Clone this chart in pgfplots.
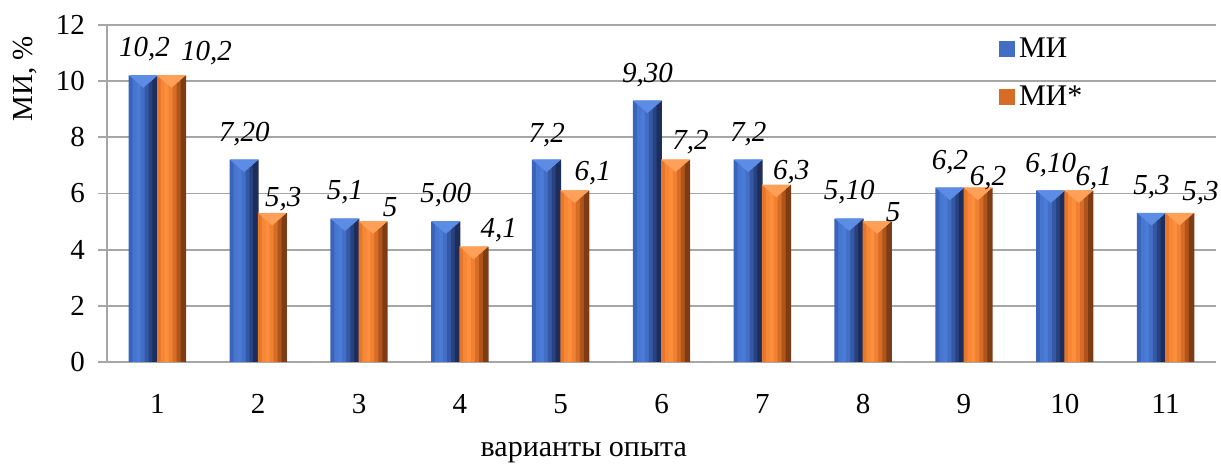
\documentclass[border=0pt]{standalone}
\usepackage{pgfplots}
\pgfplotsset{compat=1.18}
\usepackage{pgfplotstable}
\usepackage{fontspec}
\setmainfont{Liberation Serif}
\definecolor{bA}{RGB}{58,100,188}
\definecolor{bB}{RGB}{70,118,208}
\definecolor{bC}{RGB}{74,123,214}
\definecolor{bD}{RGB}{66,110,196}
\definecolor{bE}{RGB}{52,88,165}
\definecolor{bF}{RGB}{40,66,128}
\definecolor{bG}{RGB}{30,46,92}
\definecolor{oA}{RGB}{230,118,42}
\definecolor{oB}{RGB}{245,135,55}
\definecolor{oC}{RGB}{252,142,60}
\definecolor{oD}{RGB}{240,128,50}
\definecolor{oE}{RGB}{215,108,38}
\definecolor{oF}{RGB}{175,85,28}
\definecolor{oG}{RGB}{125,60,20}
\definecolor{bTop}{RGB}{92,140,228}
\definecolor{oTop}{RGB}{255,160,88}
\definecolor{gridc}{RGB}{166,166,166}

\pgfplotstableread{
x y lab dx dy
1 10.2 10,2 0.5 13
2 7.2 7,20 0 13
3 5.1 5,1 0 13.5
4 5.0 5,00 0 13
5 7.2 7,2 0 12.5
6 9.3 9,30 0 13
7 7.2 7,2 0 13
8 5.1 5,10 0 13.5
9 6.2 6,2 0 13
10 6.1 6,10 0 13
11 5.3 5,3 0 13
}\blue

\pgfplotstableread{
x y lab dx dy
1 10.2 10,2 17.5 11
2 5.3 5,3 5.5 7
3 5.0 5 8.5 7
4 4.1 4,1 12.5 8.5
5 6.1 6,1 9 9
6 7.2 7,2 7.5 9
7 6.3 6,3 7.5 6.5
8 5.0 5 8 4.5
9 6.2 6,2 5 4.75
10 6.1 6,1 7.5 6.5
11 5.3 5,3 10.5 10
}\orange

\newcommand\stripe[3]{\addplot[forget plot, ybar, draw=none, fill=#1, bar width=2.7pt, bar shift=#2pt] table[x=x, y=y] {#3};}
\newcommand\toptri[3]{\addplot[forget plot, only marks, color=#1, mark=triangle*, mark size=7.8pt,
   mark options={solid, draw=none, fill=#1, xshift=#2pt, yshift=-1.95pt, rotate=180, yscale=0.5}] table[x=x, y=y] {#3};}
\newcommand\labels[2]{\addplot[forget plot, ybar, draw=none, fill=none, bar width=14pt, bar shift=#1pt,
  point meta=explicit symbolic, nodes near coords,
  visualization depends on={\thisrow{dx} + #1 \as \mydx},
  visualization depends on={\thisrow{dy} \as \mydy},
  nodes near coords style={font=\fontsize{14.5}{16}\selectfont\itshape, anchor=center, xshift=\mydx pt, yshift=\mydy pt},
  ] table[x=x, y=y, meta=lab] {#2};}

\begin{document}
\begin{tikzpicture}
\begin{axis}[
  name=ax, at={(0,0)}, anchor=south west,
  scale only axis, width=554.5pt, height=168.5pt,
  xmin=0.5, xmax=11.5, ymin=0, ymax=12,
  xtick={1,...,11}, ytick={0,2,...,12},
  axis x line*=bottom, axis y line*=left,
  axis line style={draw=gridc, line width=0.9pt, -},
  ymajorgrids, grid style={draw=gridc, line width=0.9pt},
  xtick style={draw=none},
  ytick style={draw=gridc, line width=0.9pt},
  tick align=outside, major tick length=4.5pt,
  /pgf/number format/assume math mode=true,
  ticklabel style={font=\fontsize{14.5}{16}\selectfont},
  yticklabel style={xshift=-3pt},
  xticklabel style={yshift=-8pt},
  xlabel={варианты опыта},
  ylabel={МИ, \%},
  xlabel style={font=\fontsize{15}{17}\selectfont, at={(axis description cs:0.430,-0.281)}, anchor=base},
  ylabel style={font=\fontsize{14.5}{16}\selectfont, at={(axis description cs:-0.074,0.841)}, anchor=center},
  legend style={at={(axis description cs:0.804,0.975)}, anchor=north west, draw=none, fill=none,
     font=\fontsize{15}{17}\selectfont, row sep=8.5pt, inner sep=0pt},
  legend cell align=left,
  legend image code/.code={\fill[#1] (0pt,-4pt) rectangle (8pt,4pt);},
]
\stripe{bA}{-13}{\blue}
\stripe{bB}{-11}{\blue}
\stripe{bC}{-9}{\blue}
\stripe{bD}{-7}{\blue}
\stripe{bE}{-5}{\blue}
\stripe{bF}{-3}{\blue}
\stripe{bG}{-1.15}{\blue}
\stripe{oA}{1.15}{\orange}
\stripe{oB}{3}{\orange}
\stripe{oC}{5}{\orange}
\stripe{oD}{7}{\orange}
\stripe{oE}{9}{\orange}
\stripe{oF}{11}{\orange}
\stripe{oG}{13}{\orange}
\toptri{bTop}{-7}{\blue}
\toptri{oTop}{7}{\orange}
\labels{-7}{\blue}
\labels{7}{\orange}
\addlegendimage{fill=bD, draw=none}
\addlegendentry{МИ}
\addlegendimage{fill=oE, draw=none}
\addlegendentry{МИ*}
\end{axis}
\pgfresetboundingbox
\path (-53.5pt,-51.5pt) rectangle (557pt,181pt);
\end{tikzpicture}
\end{document}
